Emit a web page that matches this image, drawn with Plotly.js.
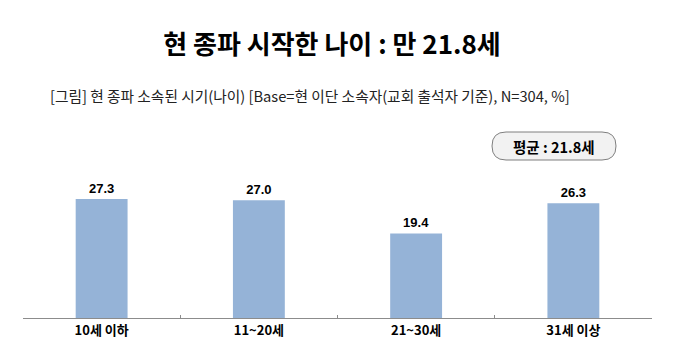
<!DOCTYPE html>
<html><head><meta charset="utf-8">
<script src="https://cdn.plot.ly/plotly-3.0.1.min.js"></script>
<style>html,body{margin:0;padding:0;background:#fff;}#chart{width:685px;height:361px;}</style>
</head><body><div id="chart"></div>
<script>
const categories = ["10세 이하", "11~20세", "21~30세", "31세 이상"];
const values = [27.3, 27.0, 19.4, 26.3];
const titleText = "현 종파 시작한 나이 : 만 21.8세";
const subtitleText = "[그림] 현 종파 소속된 시기(나이) [Base=현 이단 소속자(교회 출석자 기준), N=304, %]";
const badgeText = "평균 : 21.8세";

const W = 685, H = 361;
const M = {l: 23, r: 33, t: 120, b: 43};
const pw = W - M.l - M.r, ph = H - M.t - M.b;
const px = x => (x - M.l) / pw;
const py = y => (H - M.b - y) / ph;

function roundRect(x0, y0, x1, y1, r) {
  const rx = r / pw, ry = r / ph;
  const X0 = px(x0), X1 = px(x1), Y0 = py(y0), Y1 = py(y1);
  return `M ${X0+rx},${Y0} L ${X1-rx},${Y0} Q ${X1},${Y0} ${X1},${Y0-ry} L ${X1},${Y1+ry} Q ${X1},${Y1} ${X1-rx},${Y1} L ${X0+rx},${Y1} Q ${X0},${Y1} ${X0},${Y1+ry} L ${X0},${Y0-ry} Q ${X0},${Y0} ${X0+rx},${Y0} Z`;
}

const korean = '"Noto Sans CJK KR", "Malgun Gothic", sans-serif';
const data = [{
  type: 'bar',
  x: categories,
  y: values,
  marker: {color: '#95b3d7'},
  text: values.map(v => v.toFixed(1)),
  texttemplate: '<b>%{text}</b>',
  textposition: 'outside',
  textfont: {family: '"Liberation Sans", Arial, sans-serif', size: 13, color: '#000'},
  cliponaxis: false,
  hoverinfo: 'none'
}];

const layout = {
  width: W, height: H,
  margin: M,
  paper_bgcolor: '#fff', plot_bgcolor: '#fff',
  bargap: 0.67,
  showlegend: false,
  title: {text: '<b>' + titleText + '</b>', x: 332/W, xref: 'container', xanchor: 'center', y: 1 - 45/H, yanchor: 'middle', yref: 'container',
          font: {family: korean, size: 26, color: '#000'}},
  xaxis: {
    type: 'category',
    tickvals: categories,
    ticktext: categories.map(c => '<b>' + c + '</b>'),
    tickfont: {family: korean, size: 13, color: '#000'},
    showline: true, linecolor: '#8c8c8c', linewidth: 1,
    ticks: 'inside', tickson: 'boundaries', ticklen: 3, tickcolor: '#8c8c8c',
    showgrid: false, zeroline: false, fixedrange: true
  },
  yaxis: {range: [0, 45.4], visible: false, showgrid: false, zeroline: false, fixedrange: true},
  shapes: [{
    type: 'path', xref: 'paper', yref: 'paper',
    path: roundRect(492, 132, 616, 160, 14),
    fillcolor: '#f2f2f2', line: {color: '#7f7f7f', width: 1}
  }],
  annotations: [
    {text: subtitleText, xref: 'paper', yref: 'paper', x: px(48), y: py(95), xanchor: 'left', yanchor: 'middle',
     showarrow: false, font: {family: korean, size: 14.7, color: '#222'}},
    {text: '<b>' + badgeText + '</b>', xref: 'paper', yref: 'paper', x: px(554), y: py(146), xanchor: 'center', yanchor: 'middle',
     showarrow: false, font: {family: korean, size: 14.5, color: '#000'}}
  ]
};

Plotly.newPlot('chart', data, layout, {displayModeBar: false, staticPlot: true});
</script></body></html>
